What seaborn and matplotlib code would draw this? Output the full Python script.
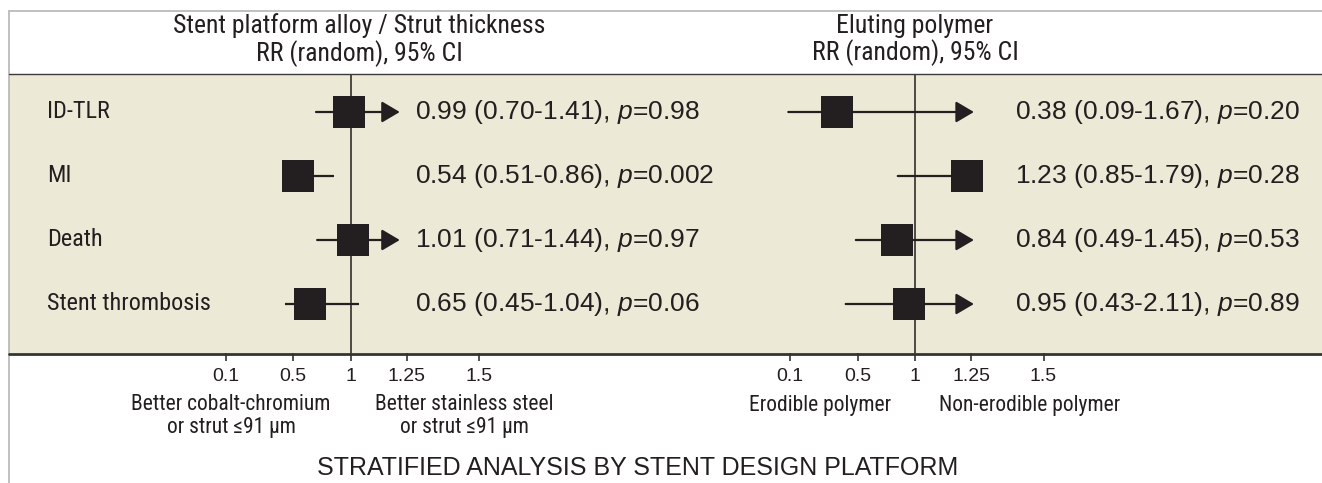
import numpy as np
import pandas as pd
import matplotlib
matplotlib.use("Agg")
import matplotlib.pyplot as plt
import seaborn as sns
from matplotlib import font_manager
from matplotlib.lines import Line2D
from matplotlib.patches import Rectangle
from matplotlib.transforms import blended_transform_factory

# ---------------------------------------------------------------- data
outcomes = ["ID-TLR", "MI", "Death", "Stent thrombosis"]

alloy_rr = [0.99, 0.54, 1.01, 0.65]
alloy_lo = [0.70, 0.51, 0.71, 0.45]
alloy_hi = [1.41, 0.86, 1.44, 1.04]
alloy_p = ["0.98", "0.002", "0.97", "0.06"]

polymer_rr = [0.38, 1.23, 0.84, 0.95]
polymer_lo = [0.09, 0.85, 0.49, 0.43]
polymer_hi = [1.67, 1.79, 1.45, 2.11]
polymer_p = ["0.20", "0.28", "0.53", "0.89"]

tick_values = [0.1, 0.5, 1, 1.25, 1.5]
tick_labels = ["0.1", "0.5", "1", "1.25", "1.5"]

panel_titles = ["Stent platform alloy / Strut thickness\nRR (random), 95% CI",
                "Eluting polymer\nRR (random), 95% CI"]
left_favours = ["Better cobalt-chromium\nor strut \u226491 \u00b5m",
                "Erodible polymer"]
right_favours = ["Better stainless steel\nor strut \u226491 \u00b5m",
                 "Non-erodible polymer"]
footer = "STRATIFIED ANALYSIS BY STENT DESIGN PLATFORM"

# ---------------------------------------------------------------- style
W, H, DPI = 1322, 483, 100
DARK = "#231f20"
BAND = "#ece9d7"
FRAME = "#b5b5b5"


def pick(cands):
    for name in cands:
        try:
            font_manager.findfont(font_manager.FontProperties(family=name),
                                  fallback_to_default=False)
            return name
        except ValueError:
            continue
    return cands[-1]


sns.set_theme(style="white")
REGULAR = pick(["Liberation Sans", "Noto Sans", "DejaVu Sans"])
NARROW = pick(["Liberation Sans Narrow", "DejaVu Sans Condensed",
               "Roboto Condensed", "Open Sans Condensed",
               "Noto Sans Condensed", REGULAR])
plt.rcParams["font.family"] = [REGULAR, "DejaVu Sans"]
plt.rcParams["mathtext.fontset"] = "custom"
plt.rcParams["mathtext.rm"] = REGULAR
plt.rcParams["mathtext.it"] = REGULAR + ":italic"
plt.rcParams["text.color"] = DARK

# piecewise forest-plot axis: tick values and their offsets from RR = 1
KNOT_V = np.array(tick_values, dtype=float)
KNOT_P = np.array([-125.0, -57.5, 0.0, 56.0, 128.5])
_lo_s = (KNOT_P[1] - KNOT_P[0]) / (KNOT_V[1] - KNOT_V[0])
_hi_s = (KNOT_P[-1] - KNOT_P[-2]) / (KNOT_V[-1] - KNOT_V[-2])
EXT_V = np.r_[KNOT_V[0] - 100, KNOT_V, KNOT_V[-1] + 100]
EXT_P = np.r_[KNOT_P[0] - 100 * _lo_s, KNOT_P, KNOT_P[-1] + 100 * _hi_s]


def fwd(x):
    return np.interp(x, EXT_V, EXT_P)


def inv(p):
    return np.interp(p, EXT_P, EXT_V)


def fx(px):
    return px / W


def fy(py):
    return 1 - py / H


fig = plt.figure(figsize=(W / DPI, H / DPI), dpi=DPI)
fig.patch.set_facecolor("white")

BAND_TOP, BAND_BOT = 74, 353
ROW_Y0, ROW_STEP = 112, 64

# shaded results band behind both panels
fig.add_artist(Rectangle((fx(9), fy(BAND_BOT)), 1 - fx(9),
                         (BAND_BOT - BAND_TOP) / H, transform=fig.transFigure,
                         facecolor=BAND, edgecolor="none", zorder=-5))

panels = [
    dict(x0=9, x1=640, one=350.5, label_x=415, cap=1.22, rr=alloy_rr,
         lo=alloy_lo, hi=alloy_hi, p=alloy_p),
    dict(x0=640, x1=W, one=915, label_x=1015, cap=1.26, rr=polymer_rr,
         lo=polymer_lo, hi=polymer_hi, p=polymer_p),
]

for k, pan in enumerate(panels):
    ax = fig.add_axes([fx(pan["x0"]), fy(BAND_BOT), fx(pan["x1"] - pan["x0"]),
                       (BAND_BOT - BAND_TOP) / H])
    ax.set_facecolor("none")
    ax.set_xscale("function", functions=(fwd, inv))
    ax.set_xlim(inv(pan["x0"] - pan["one"]), inv(pan["x1"] - pan["one"]))
    ax.set_ylim(3 + (BAND_BOT - (ROW_Y0 + 3 * ROW_STEP)) / ROW_STEP,
                -(ROW_Y0 - BAND_TOP) / ROW_STEP)

    df = pd.DataFrame({"outcome": outcomes, "row": np.arange(len(outcomes)),
                       "rr": pan["rr"], "lo": pan["lo"], "hi": pan["hi"]})

    ax.axvline(1, color=DARK, lw=1.1, zorder=2)

    # confidence intervals; those running off the scale end in an arrow head
    for _, r in df.iterrows():
        if r["hi"] > pan["cap"]:
            ax.annotate("", xy=(pan["cap"], r["row"]), xytext=(r["lo"], r["row"]),
                        xycoords="data", textcoords="data", zorder=3,
                        arrowprops=dict(arrowstyle="-|>,head_length=11,head_width=6.5",
                                        mutation_scale=1, lw=1.6, color=DARK,
                                        shrinkA=0, shrinkB=0))
        else:
            ax.plot([r["lo"], r["hi"]], [r["row"], r["row"]], color=DARK,
                    lw=1.6, solid_capstyle="butt", zorder=3)

    sns.scatterplot(data=df, x="rr", y="row", marker="s", s=500, color=DARK,
                    linewidth=0, legend=False, ax=ax, zorder=4)

    tr = blended_transform_factory(ax.transAxes, ax.transData)
    span = pan["x1"] - pan["x0"]
    for _, r in df.iterrows():
        i = int(r["row"])
        if k == 0:
            ax.text((47 - pan["x0"]) / span, i, r["outcome"], transform=tr,
                    ha="left", va="center", fontsize=17.5, family=NARROW,
                    color=DARK, clip_on=False)
        txt = f"{r['rr']:.2f} ({r['lo']:.2f}-{r['hi']:.2f}), $p$={pan['p'][i]}"
        ax.text((pan["label_x"] - pan["x0"]) / span, i, txt, transform=tr,
                ha="left", va="center", fontsize=19, color=DARK,
                clip_on=False)

    ax.set_xticks(tick_values)
    ax.set_xticklabels(tick_labels)
    ax.minorticks_off()
    ax.set_yticks([])
    ax.set_xlabel("")
    ax.set_ylabel("")
    ax.tick_params(axis="x", bottom=True, direction="out", length=6, width=1.1,
                   color=DARK, pad=5, labelsize=14, labelcolor=DARK)
    for s in ax.spines.values():
        s.set_visible(False)

    # column header
    fig.text(fx([359, 915][k]), fy(40), panel_titles[k], ha="center",
             va="center", fontsize=18.5, family=NARROW, linespacing=1.1)

# direction-of-effect captions
fig.text(fx(231), fy(416), left_favours[0], ha="center", va="center",
         fontsize=15.5, family=NARROW, linespacing=1.1)
fig.text(fx(464), fy(416), right_favours[0], ha="center", va="center",
         fontsize=15.5, family=NARROW, linespacing=1.1)
fig.text(fx(820), fy(406), left_favours[1], ha="center", va="center",
         fontsize=15.5, family=NARROW)
fig.text(fx(1030), fy(406), right_favours[1], ha="center", va="center",
         fontsize=15.5, family=NARROW)

fig.text(fx(638), fy(468), footer, ha="center", va="center", fontsize=18)

# frame and rules
fig.add_artist(Line2D([fx(9), 1], [fy(11), fy(11)], color=FRAME, lw=1.2))
fig.add_artist(Line2D([fx(9), fx(9)], [fy(11), 0], color=FRAME, lw=1.2))
fig.add_artist(Line2D([fx(9), 1], [fy(73.5), fy(73.5)], color="#3a3a3a", lw=1.0))
fig.add_artist(Line2D([fx(9), 1], [fy(353.5), fy(353.5)], color="#333333", lw=2.0))

fig.savefig("out.png", dpi=DPI)
